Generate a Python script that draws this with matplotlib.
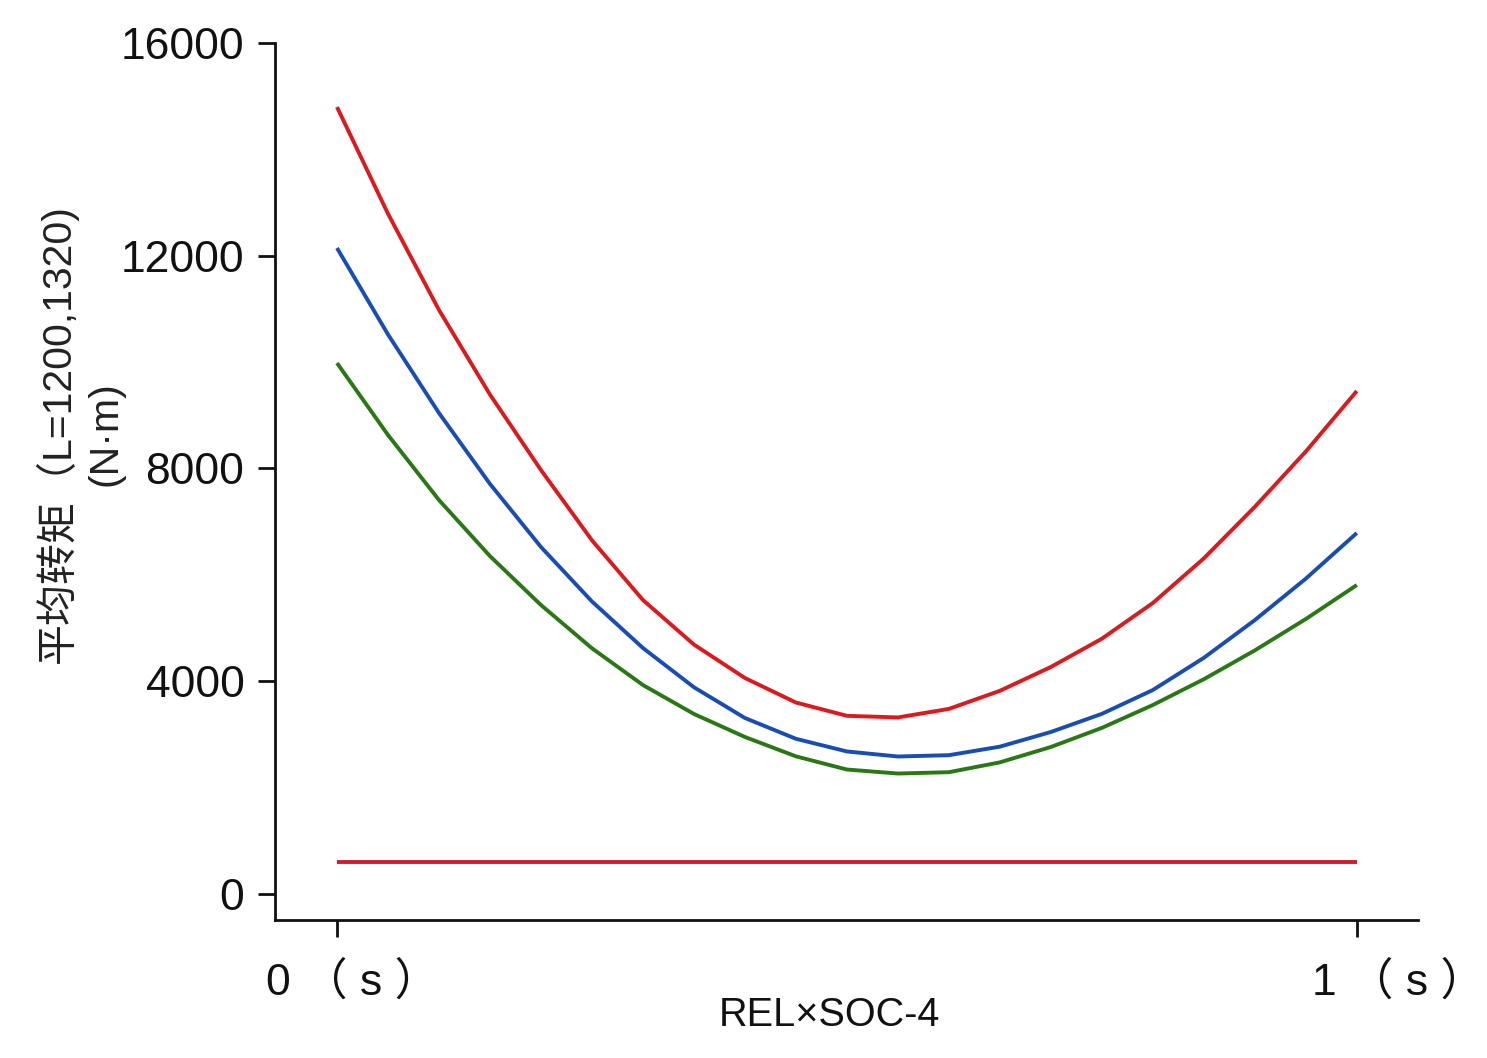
import matplotlib
matplotlib.use("Agg")
import matplotlib.pyplot as plt
from matplotlib.transforms import ScaledTranslation

# ---- data ----
x_vals = [0.0, 0.05, 0.1, 0.15, 0.2, 0.25, 0.3, 0.35, 0.4, 0.45, 0.5,
          0.55, 0.6, 0.65, 0.7, 0.75, 0.8, 0.85, 0.9, 0.95, 1.0]
red_curve = [14796, 12790, 10980, 9390, 7971, 6650, 5527, 4690, 4061, 3600, 3350,
             3320, 3480, 3820, 4268, 4800, 5471, 6310, 7280, 8320, 9457]
blue_curve = [12145, 10520, 9043, 7710, 6524, 5500, 4625, 3887, 3309, 2918, 2680,
              2585, 2610, 2770, 3046, 3387, 3835, 4440, 5150, 5929, 6787]
green_curve = [9983, 8630, 7407, 6353, 5433, 4620, 3929, 3385, 2952, 2588, 2340,
               2265, 2290, 2475, 2764, 3123, 3553, 4038, 4580, 5170, 5809]
flat_x = [0.0, 1.0]
flat_red = [602, 602]

y_ticks = [0, 4000, 8000, 12000, 16000]
x_ticks = [0, 1]
x_ticklabels = ["0 （ s ）", "1 （ s ）"]
x_label = "REL×SOC-4"
y_label = "平均转矩（L=1200,1320)\n(N·m)"

FONT = ["Liberation Sans", "Noto Sans CJK SC", "DejaVu Sans"]
plt.rcParams["font.family"] = FONT

fig = plt.figure(figsize=(14.87, 10.58), dpi=100)
ax = fig.add_axes([275 / 1487, 1 - 920 / 1058, (1418 - 275) / 1487, (920 - 43) / 1058])

lw = 2.8
ax.plot(x_vals, red_curve, color="#dc1a1e", lw=lw, solid_capstyle="butt")
ax.plot(x_vals, blue_curve, color="#1a4db3", lw=lw, solid_capstyle="butt")
ax.plot(x_vals, green_curve, color="#2a7815", lw=lw, solid_capstyle="butt")
ax.plot(flat_x, flat_red, color="#d41a28", lw=lw, solid_capstyle="butt")

ax.set_xlim(-0.0608, 1.06)
ax.set_ylim(-489, 16000)

for s in ["top", "right"]:
    ax.spines[s].set_visible(False)
for s in ["left", "bottom"]:
    ax.spines[s].set_linewidth(2.0)
    ax.spines[s].set_color("#111111")

ax.set_yticks(y_ticks)
ax.set_yticklabels([str(v) for v in y_ticks], fontsize=32)
ax.set_xticks(x_ticks)
ax.set_xticklabels(x_ticklabels, fontsize=32)
ax.tick_params(axis="both", direction="out", length=12, width=2.0, colors="#111111")
ax.tick_params(axis="y", pad=10)
ax.tick_params(axis="x", pad=18)

# nudge x tick labels horizontally (pixels) to sit like the reference
for lab, dx in zip(ax.get_xticklabels(), [16, 42]):
    lab.set_transform(lab.get_transform() + ScaledTranslation(dx / 100, 0, fig.dpi_scale_trans))

ax.set_xlabel(x_label, fontsize=28.5, color="#111111", va="top")
ax.xaxis.set_label_coords(0.485, -0.087)
ax.text(-0.171, 0.555, y_label, transform=ax.transAxes, rotation=90,
        ha="center", va="center", multialignment="center",
        fontsize=29.5, color="#222222", linespacing=1.3)

fig.savefig("out.png", dpi=100, facecolor="white")
